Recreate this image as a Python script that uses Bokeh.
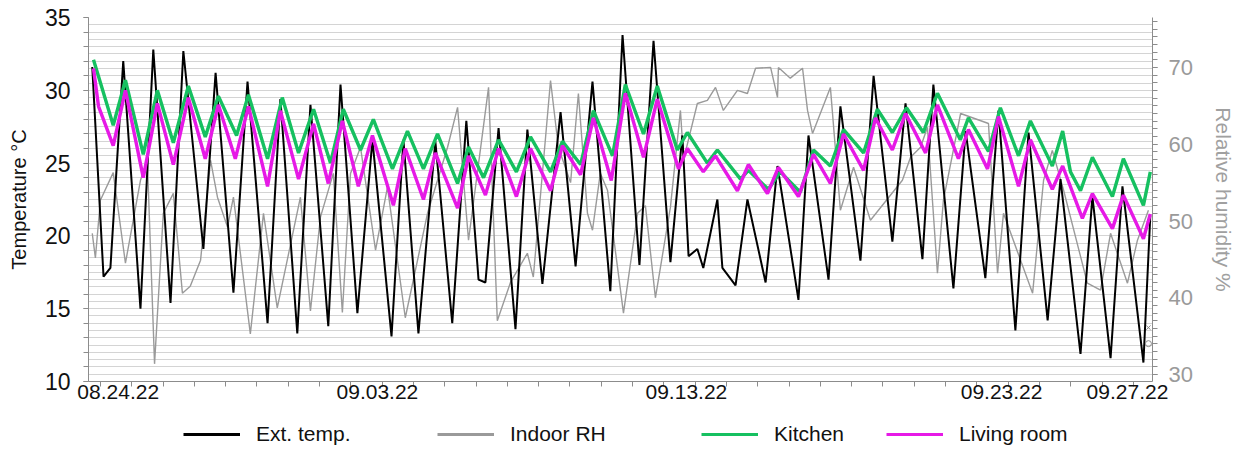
from bokeh.plotting import figure
from bokeh.models import Range1d, LinearAxis, FixedTicker, Legend, LegendItem
from bokeh.layouts import column
from bokeh.embed import file_html
from bokeh.resources import INLINE

# x values: days since 08.24.22 00:00
ext_day = [0.74, 1.10, 1.32, 1.73, 2.28, 2.69, 3.24, 3.65, 4.29, 4.68, 5.25, 5.70, 6.34, 6.75, 7.29, 7.71,
           8.28, 8.67, 9.21, 9.69, 10.30, 10.68, 11.16, 11.70, 12.24, 12.69, 13.08, 13.30, 13.72, 14.26,
           14.64, 15.12, 15.70, 16.18, 16.72, 17.29, 17.68, 18.22, 18.67, 19.21, 19.59, 19.79, 20.07, 20.26,
           20.71, 20.87, 21.29, 21.67, 22.25, 22.63, 23.30, 23.62, 24.26, 24.64, 25.28, 25.70, 26.30, 26.72,
           27.26, 27.61, 28.25, 28.64, 29.27, 29.69, 30.23, 30.65, 31.26, 31.67, 32.31, 32.69, 33.27, 33.65,
           34.32, 34.54]
ext_temp = [31.6, 17.2, 17.8, 32.0, 15.0, 32.8, 15.4, 32.7, 19.1, 31.2, 16.1, 30.6, 14.0, 29.4, 13.3, 29.0,
            13.8, 30.4, 14.7, 26.6, 13.1, 26.6, 13.3, 26.5, 14.0, 27.9, 17.0, 16.8, 27.4, 13.6,
            27.3, 16.7, 28.5, 17.9, 30.6, 16.2, 33.8, 18.0, 33.4, 18.2, 26.9, 18.6, 19.1, 17.8,
            22.5, 17.8, 16.6, 22.5, 16.8, 24.8, 15.6, 26.9, 17.0, 28.9, 18.3, 31.0, 19.6, 29.1,
            18.4, 30.4, 16.4, 27.2, 17.1, 28.6, 13.5, 27.1, 14.2, 23.9, 11.9, 22.7, 11.6, 23.4,
            11.3, 21.4]

rh_day = [0.74, 0.84, 1.00, 1.41, 1.80, 2.28, 2.50, 2.73, 3.01, 3.33, 3.62, 3.87, 4.20, 4.52, 4.74, 5.06,
          5.25, 5.79, 6.21, 6.65, 7.39, 7.71, 8.03, 8.44, 8.73, 8.99, 9.31, 9.79, 10.17, 10.74, 11.45,
          12.09, 12.41, 12.76, 13.40, 13.68, 14.10, 14.64, 14.83, 15.38, 15.63, 16.02, 16.27, 16.56,
          16.72, 16.97, 17.20, 17.71, 18.16, 18.41, 18.73, 19.21, 19.53, 19.63, 20.07, 20.39, 20.65,
          20.90, 21.35, 21.67, 21.93, 22.41, 22.63, 22.66, 23.04, 23.43, 23.59, 23.75, 24.32, 24.64,
          25.06, 25.60, 26.62, 26.88, 27.20, 27.42, 27.74, 27.93, 28.48, 29.37, 29.66, 29.85, 30.78,
          31.13, 31.41, 31.77, 32.53, 32.95, 33.27, 33.81, 34.13, 34.48]
rh_val = [48.4, 45.2, 52.7, 56.3, 44.5, 55.3, 57.9, 31.4, 51.0, 53.6, 40.6, 41.5, 44.9, 57.9, 53.1, 49.2,
          53.1, 35.3, 51.0, 38.7, 53.1, 38.3, 50.5, 56.2, 38.1, 56.2, 59.6, 46.2, 54.4, 37.4, 51.0,
          59.6, 64.8, 47.5, 67.4, 37.0, 42.0, 45.8, 42.7, 68.3, 59.6, 55.0, 66.6, 51.0,
          48.8, 56.2, 54.0, 38.0, 51.0, 52.0, 40.0, 51.8, 64.4, 58.0, 65.3, 65.7, 67.4,
          64.4, 67.0, 66.6, 69.9, 70.0, 66.1, 70.0, 68.6, 69.9, 64.4, 61.4, 67.4, 51.4,
          57.0, 50.1, 55.3, 58.3, 59.6, 62.2, 43.2, 52.7, 64.0, 62.7, 43.2, 51.0, 40.6,
          55.3, 59.2, 54.0, 41.9, 41.0, 48.4, 41.9, 47.5, 51.4]

kit_day = [0.78, 1.41, 1.80, 2.37, 2.82, 3.33, 3.81, 4.35, 4.77, 5.35, 5.73, 6.34, 6.81, 7.33, 7.81, 8.35,
           8.76, 9.31, 9.72, 10.33, 10.81, 11.32, 11.77, 12.41, 12.76, 13.24, 13.72, 14.29, 14.74, 15.38,
           15.76, 16.34, 16.75, 17.36, 17.77, 18.35, 18.79, 19.43, 19.75, 20.39, 20.71, 21.45, 21.70, 22.34,
           22.72, 23.36, 23.78, 24.32, 24.74, 25.38, 25.82, 26.30, 26.75, 27.29, 27.74, 28.47, 28.73, 29.37,
           29.75, 30.33, 30.71, 31.41, 31.74, 31.99, 32.31, 32.69, 33.33, 33.68, 34.32, 34.54]
kit_temp = [32.1, 27.6, 30.7, 25.6, 30.0, 26.4, 30.3, 26.8, 29.6, 26.9, 29.7, 25.3, 29.5, 25.7, 28.7, 25.0,
            28.7, 25.9, 28.0, 24.6, 27.2, 24.6, 27.0, 23.6, 26.1, 24.0, 26.6, 24.4, 26.8, 24.4,
            26.5, 24.9, 28.6, 25.5, 30.4, 27.0, 30.3, 25.9, 27.1, 25.0, 25.9, 23.9, 24.5, 23.2,
            24.4, 23.0, 25.9, 24.8, 27.3, 25.7, 28.7, 27.1, 28.8, 27.1, 29.8, 26.6, 28.1, 25.8,
            28.8, 25.5, 27.9, 24.8, 27.2, 24.4, 23.1, 25.4, 22.7, 25.3, 22.1, 24.4]

liv_day = [0.78, 0.94, 1.41, 1.80, 2.37, 2.82, 3.33, 3.81, 4.35, 4.77, 5.31, 5.73, 6.34, 6.75, 7.33, 7.81,
           8.28, 8.73, 9.24, 9.69, 10.36, 10.74, 11.32, 11.70, 12.41, 12.76, 13.30, 13.72, 14.29, 14.74,
           15.38, 15.76, 16.34, 16.75, 17.32, 17.77, 18.35, 18.79, 19.47, 19.75, 20.26, 20.65, 21.35, 21.70,
           22.31, 22.66, 23.30, 23.78, 24.32, 24.74, 25.38, 25.76, 26.30, 26.72, 27.36, 27.74, 28.41, 28.73,
           29.34, 29.69, 30.33, 30.71, 31.41, 31.74, 32.37, 32.69, 33.33, 33.68, 34.32, 34.54]
liv_temp = [31.5, 28.9, 26.2, 30.0, 24.0, 29.1, 24.9, 29.5, 25.3, 29.0, 25.3, 28.9, 23.4, 28.6, 23.9, 27.7,
            23.6, 27.9, 23.4, 26.9, 22.1, 26.0, 22.5, 25.7, 21.9, 25.5, 22.8, 26.0, 22.7, 26.0,
            23.1, 26.2, 24.2, 28.1, 23.8, 29.8, 25.4, 29.4, 24.6, 26.0, 24.4, 25.5, 23.1, 24.9,
            22.9, 24.7, 22.7, 25.6, 23.6, 27.0, 24.5, 28.1, 25.9, 28.4, 25.7, 29.0, 25.3, 27.3,
            24.6, 28.2, 23.4, 26.6, 23.2, 24.8, 21.2, 22.9, 20.5, 22.8, 19.8, 21.5]

# two stray markers at the end of the record
end_mark_day = [34.48, 34.48]
end_mark_temp = [13.7, 12.6]

date_labels = ["08.24.22", "09.03.22", "09.13.22", "09.23.22", "09.27.22"]
date_label_pos = [1.57, 9.85, 19.72, 29.79, 33.81]
day_ticks = list(range(1, 35))
temp_ticks = [10, 15, 20, 25, 30, 35]
rh_ticks = [30, 40, 50, 60, 70]

series_names = ["Ext. temp.", "Indoor RH", "Kitchen", "Living room"]
series_colors = ["#000000", "#9a9a9a", "#16c060", "#e619e6"]

FONT = "Liberation Sans"
NAN = float("nan")

p = figure(width=1240, height=410, x_range=Range1d(0.62, 34.61), y_range=Range1d(10, 35),
           output_backend="svg", toolbar_location=None,
           min_border_left=88, min_border_right=88, min_border_top=17, min_border_bottom=29)
p.extra_y_ranges = {"rh": Range1d(29.1, 76.5)}
p.outline_line_color = None

# grid
p.xgrid.visible = False
p.ygrid.ticker = FixedTicker(ticks=[10 + 0.5 * i for i in range(51)])
p.ygrid.grid_line_color = "#d4d4d4"
p.ygrid.grid_line_width = 1

axis_col = "#8c8c8c"

# left axis
ly = p.yaxis[0]
ly.ticker = FixedTicker(ticks=temp_ticks, minor_ticks=list(range(10, 36)))
ly.axis_line_color = axis_col
ly.major_tick_line_color = axis_col
ly.minor_tick_line_color = axis_col
ly.major_tick_out = 5
ly.major_tick_in = 0
ly.minor_tick_out = 5
ly.minor_tick_in = 0
ly.major_label_standoff = 13
ly.major_label_text_font = FONT
ly.major_label_text_font_size = "23px"
ly.major_label_text_color = "#111111"
ly.axis_label = "Temperature °C"
ly.axis_label_text_font = FONT
ly.axis_label_text_font_size = "20px"
ly.axis_label_text_font_style = "normal"
ly.axis_label_text_color = "#111111"
ly.axis_label_standoff = 12

# right axis
ry = LinearAxis(y_range_name="rh",
                ticker=FixedTicker(ticks=rh_ticks, minor_ticks=list(range(30, 77))))
ry.axis_line_color = axis_col
ry.major_tick_line_color = axis_col
ry.minor_tick_line_color = axis_col
ry.major_tick_out = 5
ry.major_tick_in = 0
ry.minor_tick_out = 5
ry.minor_tick_in = 0
ry.major_label_standoff = 11
ry.major_label_text_font = FONT
ry.major_label_text_font_size = "22px"
ry.major_label_text_color = "#9a9a9a"
ry.axis_label = "Relative humidity %"
ry.axis_label_text_font = FONT
ry.axis_label_text_font_size = "21px"
ry.axis_label_text_font_style = "normal"
ry.axis_label_text_color = "#a0a0a0"
ry.axis_label_standoff = 16
p.add_layout(ry, "right")

# x axis
xa = p.xaxis[0]
xa.ticker = FixedTicker(ticks=date_label_pos, minor_ticks=day_ticks)
xa.major_label_overrides = {pos: lab for pos, lab in zip(date_label_pos, date_labels)}
xa.axis_line_color = axis_col
xa.major_tick_out = 0
xa.major_tick_in = 0
xa.minor_tick_line_color = axis_col
xa.minor_tick_out = 5
xa.minor_tick_in = 0
xa.major_label_standoff = -2
xa.major_label_text_font = FONT
xa.major_label_text_font_size = "21px"
xa.major_label_text_color = "#111111"

# series
p.line(rh_day, rh_val, y_range_name="rh", line_color=series_colors[1], line_width=1.4)
p.line(ext_day, ext_temp, line_color=series_colors[0], line_width=2.0)
p.line(kit_day, kit_temp, line_color=series_colors[2], line_width=3.4)
p.line(liv_day, liv_temp, line_color=series_colors[3], line_width=3.4)
p.scatter(end_mark_day[:1], end_mark_temp[:1], marker="x", size=6, line_color="#8a8a8a", line_width=1)
p.scatter(end_mark_day[1:], end_mark_temp[1:], marker="circle", size=6, line_color="#8a8a8a",
          fill_color=None, line_width=1)

# legend strip below the chart; its frame lines up with the chart frame (left edge x=88)
lg_fig = figure(width=1240, height=39, x_range=Range1d(0, 1), y_range=Range1d(0, 1),
                x_axis_location=None, y_axis_location=None,
                output_backend="svg", toolbar_location=None,
                min_border_left=88, min_border_right=88, min_border_top=0, min_border_bottom=0)
lg_fig.grid.visible = False
lg_fig.outline_line_color = None

leg_x = [95, 349, 613, 798]
for name, col, lx in zip(series_names, series_colors, leg_x):
    # legend-only proxy (a single undefined point draws nothing in the strip)
    proxy = lg_fig.line(x=[NAN], y=[NAN], line_color=col, line_width=3)
    lg = Legend(items=[LegendItem(label=name, renderers=[proxy])], location=(lx, 3),
                orientation="horizontal", glyph_width=57, glyph_height=22, label_height=22,
                label_standoff=16, padding=0, margin=0, spacing=0,
                border_line_color=None, background_fill_alpha=0,
                label_text_font=FONT, label_text_font_size="21px", label_text_color="#111111")
    lg_fig.add_layout(lg, "center")

layout = column(p, lg_fig, spacing=0)
open("out.html", "w").write(file_html(layout, INLINE))
